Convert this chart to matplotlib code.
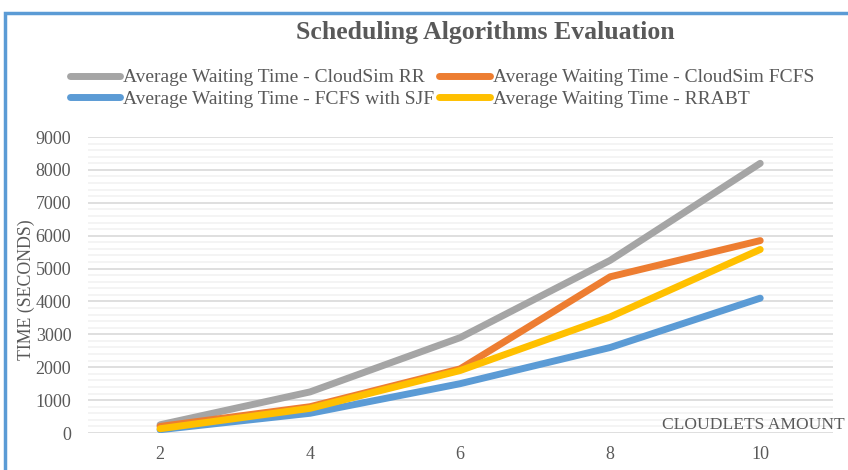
"""
Scheduling algorithms evaluation: average waiting time vs. number of cloudlets.
"""
import matplotlib.pyplot as plt
from matplotlib.patches import Rectangle
from matplotlib.lines import Line2D

cloudlets = [2, 4, 6, 8, 10]
rr_wait = [250, 1250, 2900, 5250, 8200]
fcfs_wait = [200, 800, 1950, 4750, 5850]
sjf_wait = [100, 600, 1500, 2600, 4100]
rrabt_wait = [130, 750, 1900, 3530, 5580]

series = [
    ("Average Waiting Time - CloudSim RR", rr_wait, "#A5A5A5"),
    ("Average Waiting Time - CloudSim FCFS", fcfs_wait, "#ED7D31"),
    ("Average Waiting Time - FCFS with SJF", sjf_wait, "#5B9BD5"),
    ("Average Waiting Time - RRABT", rrabt_wait, "#FFC000"),
]

TXT = "#595959"
plt.rcParams["font.family"] = ["Liberation Serif", "DejaVu Serif"]

fig = plt.figure(figsize=(8.48, 4.70), dpi=100)
ax = fig.add_axes([0.1038, 0.0787, 0.8785, 0.6298])

# border of the chart area (right / bottom cut off in the reference)
fig.patches.append(Rectangle((5 / 848, -0.1), 1.2, 1 - 13 / 470 + 0.1,
                             transform=fig.transFigure, fill=False,
                             edgecolor="#5B9BD5", linewidth=2.5))

for label, vals, col in series:
    ax.plot(cloudlets, vals, color=col, linewidth=5, solid_capstyle="round",
            label=label, zorder=3)

ax.set_xlim(1.04, 10.97)
ax.set_ylim(0, 9000)
ax.set_xticks(cloudlets)
ax.set_yticks(range(0, 9001, 1000))
ax.set_yticks(range(0, 9001, 200), minor=True)
ax.grid(which="major", axis="y", color="#D9D9D9", linewidth=1.2)
ax.grid(which="minor", axis="y", color="#F2F2F2", linewidth=1.2)
ax.set_axisbelow(True)
for s in ax.spines.values():
    s.set_visible(False)
ax.tick_params(which="both", length=0, labelsize=13, colors=TXT)
ax.tick_params(axis="y", pad=12)
ax.tick_params(axis="x", pad=9)

fig.text(26 / 848, 1 - 290 / 470, "TIME (SECONDS)", rotation=90,
         ha="center", va="center", fontsize=12.8, color=TXT)
fig.text(845 / 848, 1 - 425 / 470, "CLOUDLETS AMOUNT", ha="right",
         va="center", fontsize=12.6, color=TXT)
fig.text(485 / 848, 1 - 33 / 470, "Scheduling Algorithms Evaluation",
         ha="center", va="center", fontsize=18.5, fontweight="bold", color=TXT)

order = [0, 2, 1, 3]
handles = [Line2D([], [], color=series[i][2], linewidth=5,
                  solid_capstyle="round") for i in order]
labels = [series[i][0] for i in order]
leg = fig.legend(handles, labels, loc="upper left",
                 bbox_to_anchor=(60 / 848, 1 - 59 / 470), ncol=2,
                 frameon=False, fontsize=14, handlelength=2.6,
                 handletextpad=0.15, columnspacing=0.25, labelspacing=0.2,
                 borderpad=0)
for t in leg.get_texts():
    t.set_color(TXT)

fig.savefig("out.png", dpi=100)
